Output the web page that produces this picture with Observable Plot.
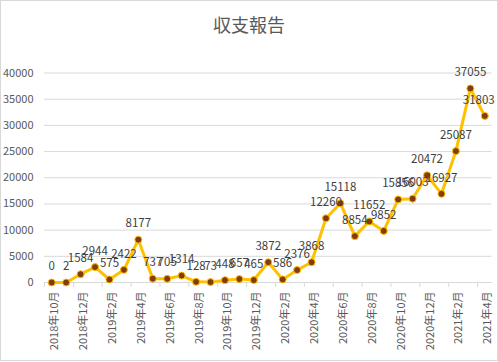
<!DOCTYPE html>
<html>
<head>
<meta charset="utf-8">
<script src="https://cdn.jsdelivr.net/npm/d3@7"></script>
<script src="https://cdn.jsdelivr.net/npm/@observablehq/plot@0.6"></script>
<style>
  html, body { margin: 0; padding: 0; background: #fff; }
  #chart {
    width: 498px; height: 361px; box-sizing: border-box;
    border: 1px solid #d9d9d9; background: #fff; overflow: hidden;
    font-family: "Noto Sans CJK JP", "Noto Sans", sans-serif;
  }
  #title {
    height: 46px; line-height: 46px; text-align: center;
    font-size: 18px; color: #595959;
  }
</style>
</head>
<body>
<div id="chart"><div id="title">収支報告</div></div>
<script>
const months = [
  "2018年10月","2018年11月","2018年12月",
  "2019年1月","2019年2月","2019年3月","2019年4月","2019年5月","2019年6月",
  "2019年7月","2019年8月","2019年9月","2019年10月","2019年11月","2019年12月",
  "2020年1月","2020年2月","2020年3月","2020年4月","2020年5月","2020年6月",
  "2020年7月","2020年8月","2020年9月","2020年10月","2020年11月","2020年12月",
  "2021年1月","2021年2月","2021年3月","2021年4月"
];
const values = [
  0, 2, 1584,
  2944, 575, 2422, 8177, 737, 705,
  1314, 128, 73, 448, 657, 465,
  3872, 586, 2376, 3868, 12260, 15118,
  8854, 11652, 9852, 15856, 16003, 20472,
  16927, 25087, 37055, 31803
];
const yTicks = [0, 5000, 10000, 15000, 20000, 25000, 30000, 35000, 40000];

const data = values.map((v, i) => ({i, month: months[i], v}));
const labelTicks = months.map((m, i) => i).filter(i => i % 2 === 0);
const boundaryTicks = labelTicks.map(i => i - 0.5).filter(b => b < months.length - 0.5);
const innerData = data.slice(0, -1);
const lastData = data.slice(-1);

const font = "Noto Sans CJK JP";
const chart = Plot.plot({
  width: 496,
  height: 313,
  marginLeft: 43,
  marginRight: 5.5,
  marginTop: 25.5,
  marginBottom: 78,
  style: {fontFamily: font, background: "#fff"},
  x: {type: "linear", domain: [-0.5, months.length - 0.5], label: null},
  y: {domain: [0, 40000], label: null},
  marks: [
    Plot.gridY(yTicks, {stroke: "#d9d9d9", strokeOpacity: 1}),
    Plot.ruleY([0], {stroke: "#d9d9d9"}),
    Plot.axisY(yTicks, {tickSize: 0, tickPadding: 11, fontSize: 11, fill: "#595959", label: null, tickFormat: d => String(d)}),
    Plot.axisX(boundaryTicks, {tickSize: 5, stroke: "#d9d9d9", strokeOpacity: 1, label: null, tickFormat: () => ""}),
    Plot.axisX(labelTicks, {tickSize: 0, tickPadding: 9, tickRotate: -90, fontSize: 11, fill: "#595959", dx: 3, label: null, tickFormat: i => months[i]}),
    Plot.line(data, {x: "i", y: "v", stroke: "#FFC000", strokeWidth: 3, strokeLinejoin: "round"}),
    Plot.dot(data, {x: "i", y: "v", r: 3.5, fill: "#843C0C", stroke: "#FFC000", strokeWidth: 1}),
    Plot.text(innerData, {x: "i", y: "v", text: d => String(d.v), dy: -16, fontSize: 11.5, fill: "#404040"}),
    Plot.text(lastData, {x: "i", y: "v", text: d => String(d.v), dy: -16, dx: -6, fontSize: 11.5, fill: "#404040"})
  ]
});
document.getElementById("chart").appendChild(chart);
</script>
</body>
</html>
